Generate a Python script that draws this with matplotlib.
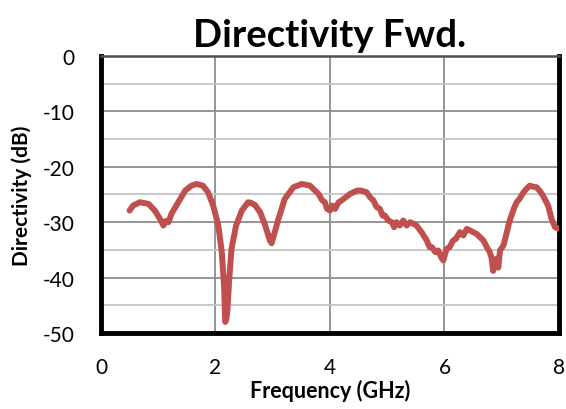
"""Directivity Fwd. chart"""
import matplotlib
matplotlib.use("Agg")
import matplotlib.pyplot as plt
from matplotlib.ticker import MultipleLocator

freq_ghz = [0.50, 0.56, 0.68, 0.83, 0.94, 1.03, 1.09, 1.13, 1.18, 1.23,
            1.35, 1.47, 1.58, 1.67, 1.78, 1.87, 1.96, 2.05, 2.11, 2.15,
            2.17, 2.19, 2.21, 2.24, 2.28, 2.36, 2.46, 2.57, 2.62, 2.69,
            2.78, 2.86, 2.95, 2.98, 3.01, 3.10, 3.21, 3.36, 3.51, 3.65,
            3.80, 3.86, 3.91, 3.95, 4.00, 4.04, 4.09, 4.15, 4.20, 4.35,
            4.47, 4.55, 4.64, 4.70, 4.76, 4.81, 4.87, 4.92, 4.96, 5.02,
            5.08, 5.12, 5.16, 5.22, 5.28, 5.34, 5.40, 5.46, 5.51, 5.60,
            5.69, 5.74, 5.78, 5.84, 5.89, 5.94, 5.98, 6.01, 6.04, 6.09,
            6.15, 6.20, 6.27, 6.33, 6.39, 6.45, 6.50, 6.56, 6.62, 6.68,
            6.74, 6.79, 6.82, 6.85, 6.88, 6.91, 6.94, 6.97, 7.03, 7.09,
            7.13, 7.17, 7.21, 7.26, 7.31, 7.38, 7.43, 7.49, 7.55, 7.61,
            7.66, 7.72, 7.76, 7.81, 7.87, 7.93, 8.00]
directivity_db = [-27.9, -27.0, -26.4, -26.7, -27.9, -29.4, -30.6, -29.8, -30.0, -28.5,
                  -26.4, -24.3, -23.4, -23.1, -23.4, -24.6, -27.0, -30.6, -35.4, -41.5,
                  -48.0, -47.5, -45.7, -40.3, -34.8, -30.6, -27.9, -26.4, -26.5, -26.9,
                  -28.2, -30.3, -33.3, -33.8, -32.7, -29.4, -25.8, -23.7, -23.1, -23.4,
                  -24.9, -26.0, -26.4, -27.6, -27.9, -27.0, -27.6, -26.4, -26.1, -24.9,
                  -24.3, -24.3, -24.6, -25.5, -26.1, -27.2, -27.6, -28.8, -28.8, -29.7,
                  -30.0, -30.9, -30.0, -30.6, -29.7, -30.6, -30.0, -30.3, -30.6, -31.8,
                  -33.3, -34.5, -34.5, -35.4, -35.1, -36.3, -36.9, -35.7, -34.8, -34.5,
                  -33.3, -33.0, -31.8, -32.4, -31.2, -31.5, -31.8, -32.1, -32.7, -33.3,
                  -34.5, -35.4, -36.3, -38.8, -37.5, -36.6, -38.2, -35.1, -34.2, -31.8,
                  -30.0, -28.8, -27.6, -26.4, -25.8, -24.6, -24.0, -23.4, -23.6, -23.7,
                  -24.3, -25.2, -26.0, -27.0, -29.4, -30.9, -31.2]

plt.rcParams['font.family'] = ['Lato', 'DejaVu Sans']
plt.rcParams['axes.unicode_minus'] = False

fig = plt.figure(figsize=(5.66, 4.10), dpi=100)
ax = fig.add_axes([0.1784, 0.1854, 0.8092, 0.6756])

ax.plot(freq_ghz, directivity_db, color='#C0504D', lw=4.3,
        solid_capstyle='round', solid_joinstyle='round', zorder=3)

ax.set_xlim(0, 8)
ax.set_ylim(-50, 0)
ax.xaxis.set_major_locator(MultipleLocator(2))
ax.yaxis.set_major_locator(MultipleLocator(10))
ax.yaxis.set_minor_locator(MultipleLocator(5))

ax.grid(True, which='major', axis='both', color='#8C8C8C', lw=1.3, zorder=1)
ax.grid(True, which='minor', axis='y', color='#C4C4C4', lw=1.3, zorder=1)
ax.tick_params(which='both', length=0, labelsize=15)
ax.tick_params(axis='y', pad=19)
ax.tick_params(axis='x', pad=17)

for side in ['left', 'bottom', 'right']:
    ax.spines[side].set_linewidth(3.5)
    ax.spines[side].set_color('black')
ax.spines['top'].set_linewidth(1.8)
ax.spines['top'].set_color('#505050')

ax.set_title('Directivity Fwd.', fontsize=27.5, fontweight='bold', pad=7)
ax.set_xlabel('Frequency (GHz)', fontsize=15.5, fontweight='bold', labelpad=2)
ax.set_ylabel('Directivity (dB)', fontsize=15, fontweight='bold', labelpad=8)

fig.savefig('out.png', dpi=100)
